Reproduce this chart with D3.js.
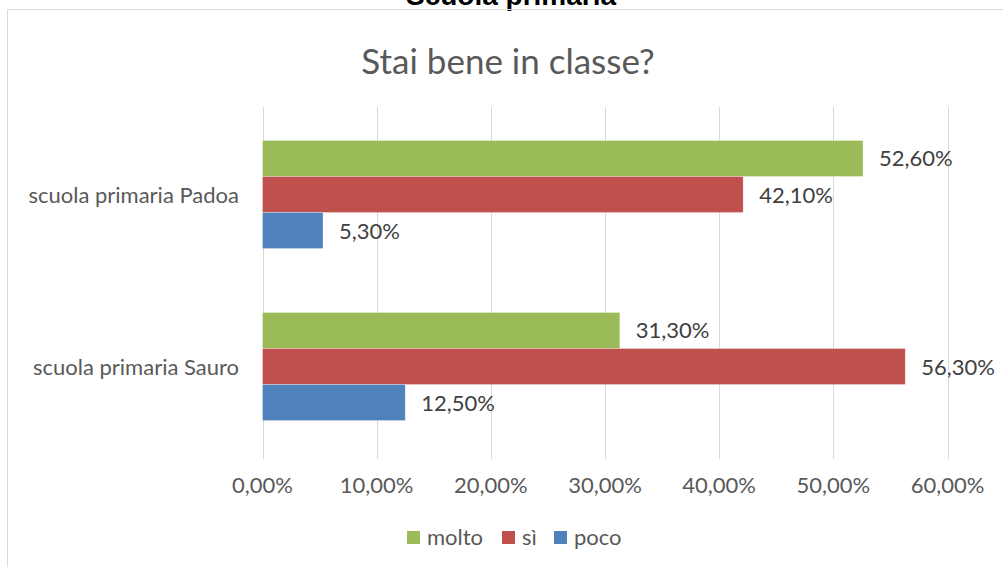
<!DOCTYPE html>
<html>
	<head>
		<meta charset="UTF-8" />
		<title>Stai bene in classe?</title>
		<style>
			html, body {
				margin: 0;
				padding: 0;
				overflow: hidden;
				background: #fff;
			}
			svg text {
				font-family: Lato, sans-serif;
			}
			.grid line {
				stroke: #d9d9d9;
				stroke-width: 1px;
			}
		</style>
		<script src="https://d3js.org/d3.v7.min.js"></script>
	</head>
	<body>
		<svg></svg>
		<script>
			// data
			const schools = ['scuola primaria Padoa', 'scuola primaria Sauro'];
			const seriesNames = ['molto', 'sì', 'poco'];
			const seriesColors = ['#9bbb59', '#c0504d', '#4f81bd'];
			const molto = [52.6, 31.3];
			const si = [42.1, 56.3];
			const poco = [5.3, 12.5];
			const ticks = [0, 10, 20, 30, 40, 50, 60];

			const width = 1003;
			const height = 567;
			const svg = d3.select('svg')
				.attr('width', width)
				.attr('height', height);

			const fmt = v => v.toFixed(2).replace('.', ',') + '%';

			// page heading, cut off at the top like in the source
			svg.append('text')
				.attr('x', 511)
				.attr('y', 5)
				.attr('text-anchor', 'middle')
				.style('font-family', '"Liberation Sans", Arial, sans-serif')
				.style('font-weight', 'bold')
				.style('font-size', '28px')
				.attr('fill', '#000')
				.text('Scuola primaria');

			// chart border
			svg.append('path')
				.attr('d', `M7.5,${height + 2}V9.5H${width + 2}`)
				.attr('fill', 'none')
				.attr('stroke', '#d9d9d9');

			svg.append('text')
				.attr('x', 508)
				.attr('y', 74)
				.attr('text-anchor', 'middle')
				.style('font-size', '35px')
				.attr('fill', '#595959')
				.text('Stai bene in classe?');

			const x = d3.scaleLinear().domain([0, 60]).range([262.5, 947.5]);
			const y = d3.scaleBand().domain(schools).range([108.5, 452.5]).paddingInner(0.372).paddingOuter(0.186);
			const ySub = d3.scaleBand().domain(seriesNames).range([0, y.bandwidth()]);

			svg.append('g')
				.attr('class', 'grid')
				.selectAll('line')
				.data(ticks)
				.join('line')
				.attr('x1', d => Math.round(x(d)) + 0.5)
				.attr('x2', d => Math.round(x(d)) + 0.5)
				.attr('y1', 107)
				.attr('y2', 459);

			svg.append('g')
				.selectAll('text')
				.data(ticks)
				.join('text')
				.attr('x', d => x(d))
				.attr('y', 493)
				.attr('text-anchor', 'middle')
				.style('font-size', '22px')
				.attr('fill', '#595959')
				.text(d => fmt(d));

			svg.append('g')
				.selectAll('text')
				.data(schools)
				.join('text')
				.attr('x', 239)
				.attr('y', d => y(d) + y.bandwidth() / 2 + 8)
				.attr('text-anchor', 'end')
				.style('font-size', '22px')
				.attr('fill', '#595959')
				.text(d => d);

			const rows = [];
			const values = [molto, si, poco];
			schools.forEach((s, i) => {
				seriesNames.forEach((n, j) => {
					rows.push({ school: s, series: n, color: seriesColors[j], value: values[j][i] });
				});
			});

			const bars = svg.append('g');
			bars.selectAll('rect')
				.data(rows)
				.join('rect')
				.attr('x', x(0))
				.attr('y', d => y(d.school) + ySub(d.series))
				.attr('width', d => x(d.value) - x(0))
				.attr('height', ySub.bandwidth())
				.attr('fill', d => d.color)
				.attr('stroke', '#fff')
				.attr('stroke-opacity', 0.4)
				.attr('stroke-width', 0.75);

			bars.selectAll('text')
				.data(rows)
				.join('text')
				.attr('x', d => x(d.value) + 16)
				.attr('y', d => y(d.school) + ySub(d.series) + ySub.bandwidth() / 2 + 8)
				.style('font-size', '22px')
				.attr('fill', '#404040')
				.text(d => fmt(d.value));

			// legend
			const legendX = [407, 502, 554];
			const legend = svg.append('g')
				.selectAll('g')
				.data(seriesNames)
				.join('g')
				.attr('transform', (d, i) => `translate(${legendX[i]},531)`);
			legend.append('rect')
				.attr('width', 13)
				.attr('height', 13)
				.attr('fill', (d, i) => seriesColors[i]);
			legend.append('text')
				.attr('x', 20)
				.attr('y', 14)
				.style('font-size', '22px')
				.attr('fill', '#595959')
				.text(d => d);
		</script>
	</body>
</html>
